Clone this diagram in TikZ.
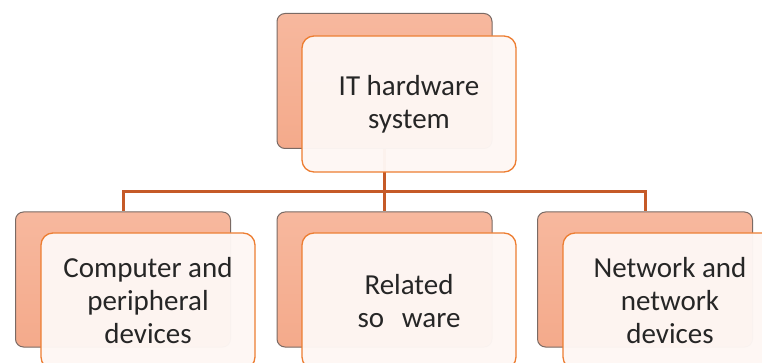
\documentclass[tikz,border=0pt]{standalone}
\usepackage{fontspec}
\setmainfont{Carlito}
\usetikzlibrary{positioning}
\definecolor{backtop}{HTML}{F7B89E}
\definecolor{backbot}{HTML}{F4AA8B}
\definecolor{backedge}{HTML}{7A6A64}
\definecolor{frontfill}{HTML}{FEF7F4}
\definecolor{frontedge}{HTML}{ED7D31}
\definecolor{connline}{HTML}{C55A28}
\definecolor{labeltext}{HTML}{262626}
\tikzset{
  backbox/.style={rectangle, rounded corners=8pt, minimum width=215pt, minimum height=135pt,
    draw=backedge, line width=1pt, top color=backtop, bottom color=backbot, inner sep=0pt},
  frontbox/.style={rectangle, rounded corners=12pt, minimum width=214pt, minimum height=136pt,
    draw=frontedge, line width=1.3pt, fill=frontfill, fill opacity=0.97, text opacity=1,
    text=labeltext, align=center, inner sep=0pt,
    font=\fontsize{29pt}{33pt}\selectfont},
  conn/.style={draw=connline, line width=3pt}
}
\begin{document}
\begin{tikzpicture}[x=1pt,y=-1pt]
\useasboundingbox (0,0) rectangle (762,363);
\clip (0,0) rectangle (762,363);
\fill[white] (0,0) rectangle (762,363);

% shaded back plates
\node[backbox] (tb) at (384.5,81) {};
\node[backbox] (lb) at (123,279.5) {};
\node[backbox] (mb) at (384.5,279.5) {};
\node[backbox] (rb) at (645,279.5) {};

% tree connectors
\draw[conn] (tb.south) -- ++(0,43) -| (lb.north);
\draw[conn] (tb.south) -- ++(0,43) -| (rb.north);
\draw[conn] (tb.south) -- (mb.north);

% label cards
\node[frontbox] (tf) at (409,104) {IT hardware\\system};
\node[frontbox] (lf) at (148,301) {Computer and\\peripheral\\devices};
\node[frontbox] (mf) at (409,301) {Related\\so\phantom{ft}ware};
\node[frontbox] (rf) at (670,301) {Network and\\network\\devices};
\end{tikzpicture}
\end{document}
